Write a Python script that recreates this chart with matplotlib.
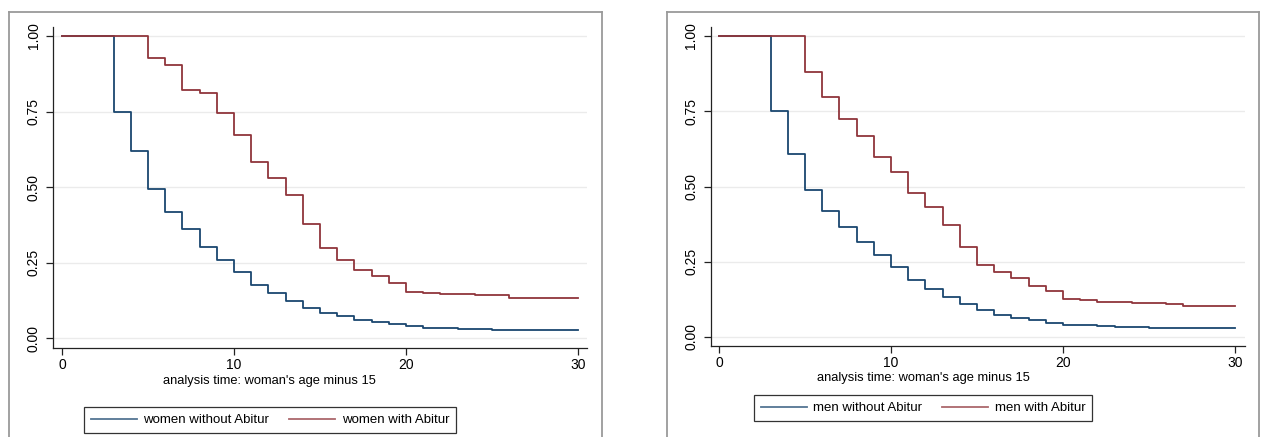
import matplotlib
matplotlib.use('Agg')
import matplotlib.pyplot as plt
from matplotlib.lines import Line2D

plt.rcParams['font.family'] = ['Liberation Sans', 'DejaVu Sans']

# Kaplan-Meier estimates (time, survival)
women_no_t = [0, 3, 4, 5, 6, 7, 8, 9, 10, 11, 12, 13, 14, 15, 16, 17, 18, 19,
              20, 21, 22, 23, 25, 27, 30]
women_no_s = [1.0, 0.75, 0.62, 0.494, 0.416, 0.361, 0.302, 0.257, 0.218, 0.175,
              0.148, 0.121, 0.099, 0.083, 0.072, 0.061, 0.053, 0.045, 0.039,
              0.034, 0.032, 0.030, 0.028, 0.026, 0.026]
women_abi_t = [0, 5, 6, 7, 8, 9, 10, 11, 12, 13, 14, 15, 16, 17, 18, 19, 20,
               21, 22, 24, 26, 30]
women_abi_s = [1.0, 0.927, 0.903, 0.820, 0.813, 0.745, 0.674, 0.584, 0.530,
               0.473, 0.377, 0.298, 0.257, 0.224, 0.204, 0.182, 0.153, 0.150,
               0.147, 0.141, 0.133, 0.133]

men_no_t = [0, 3, 4, 5, 6, 7, 8, 9, 10, 11, 12, 13, 14, 15, 16, 17, 18, 19,
            20, 21, 22, 23, 25, 30]
men_no_s = [1.0, 0.751, 0.609, 0.488, 0.419, 0.365, 0.317, 0.273, 0.233, 0.188,
            0.160, 0.134, 0.109, 0.090, 0.074, 0.063, 0.055, 0.047, 0.041,
            0.039, 0.035, 0.033, 0.031, 0.031]
men_abi_t = [0, 5, 6, 7, 8, 9, 10, 11, 12, 13, 14, 15, 16, 17, 18, 19, 20, 21,
             22, 24, 26, 27, 30]
men_abi_s = [1.0, 0.881, 0.796, 0.723, 0.667, 0.598, 0.549, 0.477, 0.431,
             0.373, 0.298, 0.238, 0.216, 0.197, 0.171, 0.152, 0.127, 0.122,
             0.116, 0.113, 0.109, 0.104, 0.104]

xticks = [0, 10, 20, 30]
yticks = [0.0, 0.25, 0.5, 0.75, 1.0]
xtitle = "analysis time: woman's age minus 15"

navy = '#1a476f'
maroon = '#90353b'

W, H = 1261, 437
fig = plt.figure(figsize=(W / 100, H / 100), dpi=100)


def px(x0, y0, x1, y1):
    # pixel box -> figure fraction rect
    return [x0 / W, 1 - y1 / H, (x1 - x0) / W, (y1 - y0) / H]


panels = [
    dict(box=(53, 27, 587, 348), xlim=(-0.52, 30.52), ylim=(-0.033, 1.03),
         frame=(9, 602), series=[(women_no_t, women_no_s, 'women without Abitur'),
                                 (women_abi_t, women_abi_s, 'women with Abitur')],
         title_xy=(269, 381), leg_xy=(270, 420)),
    dict(box=(711, 27, 1245, 346), xlim=(-0.47, 30.58), ylim=(-0.030, 1.03),
         frame=(667, 1259), series=[(men_no_t, men_no_s, 'men without Abitur'),
                                    (men_abi_t, men_abi_s, 'men with Abitur')],
         title_xy=(923, 378), leg_xy=(923, 408)),
]

for p in panels:
    # outer graph region frame (runs off the bottom of the image)
    fx0, fx1 = p['frame']
    fr = dict(color='#9a9a9a', lw=1.3, transform=fig.transFigure)
    fig.add_artist(Line2D([fx0 / W, fx0 / W], [1 - 12 / H, -0.05], **fr))
    fig.add_artist(Line2D([fx1 / W, fx1 / W], [1 - 12 / H, -0.05], **fr))
    fig.add_artist(Line2D([fx0 / W, fx1 / W], [1 - 12 / H, 1 - 12 / H], **fr))

    ax = fig.add_axes(px(*p['box']))
    for (t, s, lab), c in zip(p['series'], [navy, maroon]):
        ax.step(t, s, where='post', color=c, lw=1.3, label=lab)
    ax.set_xlim(*p['xlim'])
    ax.set_ylim(*p['ylim'])
    ax.set_xticks(xticks)
    ax.set_yticks(yticks)
    ax.set_yticklabels(['%.2f' % v for v in yticks], rotation=90, va='center')
    ax.grid(axis='y', color='#ebebeb', lw=1.0)
    ax.set_axisbelow(True)
    for side in ['top', 'right']:
        ax.spines[side].set_visible(False)
    for side in ['left', 'bottom']:
        ax.spines[side].set_color('#222222')
        ax.spines[side].set_linewidth(0.9)
    ax.tick_params(direction='out', length=5, width=0.9, color='#222222',
                   labelsize=10, pad=2)
    ax.tick_params(axis='y', pad=4)

    tx, ty = p['title_xy']
    fig.text(tx / W, 1 - ty / H, xtitle, ha='center', va='center', fontsize=9.3)

    lx, ly = p['leg_xy']
    leg = ax.legend(loc='center', bbox_to_anchor=(lx / W, 1 - ly / H),
                    bbox_transform=fig.transFigure, ncol=2, fontsize=9.5,
                    frameon=True, fancybox=False, edgecolor='black',
                    handlelength=3.5, handletextpad=0.5, columnspacing=1.5,
                    borderpad=0.5)
    leg.get_frame().set_linewidth(0.9)
    for ln in leg.get_lines():
        ln.set_alpha(0.75)

fig.savefig('out.png', dpi=100)
